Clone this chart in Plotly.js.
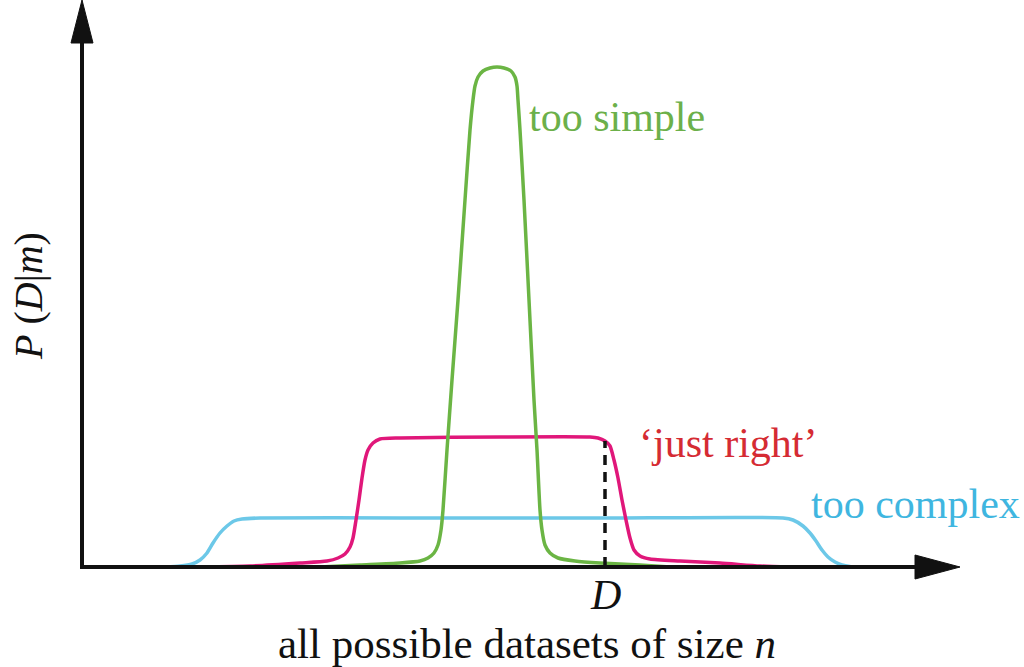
<!DOCTYPE html>
<html>
<head>
<meta charset="utf-8">
<script src="https://cdn.plot.ly/plotly-3.0.1.min.js"></script>
<style>html,body{margin:0;padding:0;background:#fff;}#chart{width:1024px;height:667px;}</style>
</head>
<body>
<div id="chart"></div>
<script>
// Data space: x = position along "all possible datasets", y = P(D|m) (arbitrary units)
const complexX = [83,98,110,118,125,131,138,145,152,160,178,318,518,701,711,721,728,734,740,746,753,760,770];
const complexY = [0,1,3,7,14,24,34,41,46,48,49,49,49,49,47,41,34,26,17,10,5,2,0];

const rightX = [118,168,218,245,256,263,268,271,274,277,280,283,286,291,298,318,418,508,516,523,528,532,536,540,544,548,552,558,568,598,638,678,708];
const rightY = [0,1,4,6,9,13,20,29,47,67,89,107,117,124,128,129,130,130,129,126,121,107,89,67,47,29,17,11,8,6,4,1,0];

const simpleX = [238,278,318,338,346,352,356,359,361,365,370,376,383,388,391,393,396,401,408,415,422,429,433,435,436,438,442,447,452,455,458,460,463,468,476,493,518,558,588];
const simpleY = [0,2,4,6,9,14,22,37,57,117,187,267,367,437,467,481,490,496,499,500,499,496,490,481,467,437,367,267,167,117,57,37,22,14,9,6,4,2,0];

const observedD = 523;           // position of the observed dataset D
const observedDHeight = 126;     // 'just right' value at D

const labels = {
  simple: "too simple",
  right: "\u2018just right\u2019",
  complex: "too complex",
  d: "<i>D</i>",
  xTitle: "all possible datasets of size <i>n</i>",
  yTitle: "<i>P</i> (<i>D</i>|<i>m</i>)"
};

const SERIF = "'Liberation Serif', 'DejaVu Serif', serif";
const FS = 42;

const traces = [
  {x: complexX, y: complexY, mode: "lines", line: {color: "#6cc8e8", width: 3.5, shape: "spline", smoothing: 0.6}, hoverinfo: "skip"},
  {x: rightX, y: rightY, mode: "lines", line: {color: "#e0177a", width: 3.5, shape: "spline", smoothing: 0.6}, hoverinfo: "skip"},
  {x: simpleX, y: simpleY, mode: "lines", line: {color: "#6bb544", width: 3.5, shape: "spline", smoothing: 0.6}, hoverinfo: "skip"},
  {x: [observedD, observedD], y: [0, observedDHeight], mode: "lines", line: {color: "#111", width: 3.5, dash: "10px,7px"}, hoverinfo: "skip"}
];

const layout = {
  width: 1024, height: 667,
  margin: {l: 0, r: 0, t: 0, b: 0},
  paper_bgcolor: "#fff", plot_bgcolor: "#fff",
  showlegend: false,
  font: {family: SERIF},
  xaxis: {range: [-82, 942], visible: false, fixedrange: true},
  yaxis: {range: [-100, 567], visible: false, fixedrange: true},
  shapes: [
    {type: "line", xref: "x", yref: "y", x0: 0, y0: -2, x1: 0, y1: 526, line: {color: "#111", width: 4}},
    {type: "line", xref: "x", yref: "y", x0: -2, y0: 0, x1: 835, y1: 0, line: {color: "#111", width: 4}},
    {type: "path", xref: "x", yref: "y", path: "M -11,524 L 0,567 L 11,524 Z", fillcolor: "#111", line: {color: "#111", width: 1}},
    {type: "path", xref: "x", yref: "y", path: "M 833,12 L 878,0 L 833,-12 Z", fillcolor: "#111", line: {color: "#111", width: 1}}
  ],
  annotations: [
    {x: 445, y: 450, xref: "x", yref: "y", text: labels.simple, showarrow: false, xanchor: "left", yanchor: "middle", font: {family: SERIF, size: FS, color: "#6cb04a"}},
    {x: 555, y: 124, xref: "x", yref: "y", text: labels.right, showarrow: false, xanchor: "left", yanchor: "middle", font: {family: SERIF, size: FS, color: "#d52b33"}},
    {x: 727, y: 63, xref: "x", yref: "y", text: labels.complex, showarrow: false, xanchor: "left", yanchor: "middle", font: {family: SERIF, size: FS, color: "#3fb6e0"}},
    {x: observedD, y: -28, xref: "x", yref: "y", text: labels.d, showarrow: false, xanchor: "center", yanchor: "middle", font: {family: SERIF, size: FS, color: "#111"}},
    {x: 445, y: -76, xref: "x", yref: "y", text: labels.xTitle, showarrow: false, xanchor: "center", yanchor: "middle", font: {family: SERIF, size: 43, color: "#111"}},
    {x: -54, y: 271, xref: "x", yref: "y", text: labels.yTitle, showarrow: false, xanchor: "center", yanchor: "middle", textangle: -90, font: {family: SERIF, size: 40, color: "#111"}}
  ]
};

Plotly.newPlot("chart", traces, layout, {displayModeBar: false, staticPlot: true});
</script>
</body>
</html>
